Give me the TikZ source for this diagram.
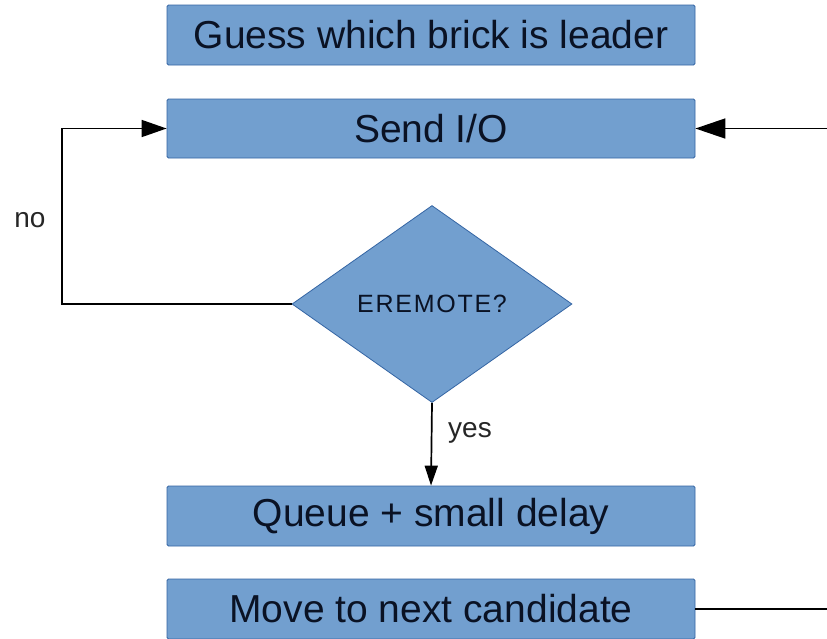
\documentclass[tikz,border=0pt]{standalone}
\usepackage{fontspec}
\setmainfont{Liberation Sans}
\usetikzlibrary{shapes.geometric,arrows.meta}

\definecolor{boxfill}{HTML}{729FCF}
\definecolor{boxline}{HTML}{3465A4}
\definecolor{boxtext}{HTML}{0A1224}

\tikzset{
  stepbox/.style={draw=boxline, line width=0.8pt, fill=boxfill, rounded corners=1.5pt,
    minimum width=528pt, inner sep=0pt, text=boxtext,
    font=\fontsize{39}{39}\selectfont},
  decision/.style={diamond, draw=boxline, line width=0.8pt, fill=boxfill, inner sep=0pt,
    minimum width=280pt, minimum height=197pt, text=boxtext,
    font=\fontsize{25}{25}\selectfont\addfontfeature{LetterSpace=7}},
  flow/.style={draw=black, line width=1.7pt},
  branch/.style={font=\fontsize{28}{28}\selectfont, text=black!85},
}

\begin{document}
\begin{tikzpicture}[x=1pt, y=-1pt]
  \useasboundingbox (0,0) rectangle (827,638);
  \clip (0,0) rectangle (827,638);
  \fill[white] (0,0) rectangle (827,638);

  % process steps
  \node[stepbox, minimum height=60pt] (guess) at (431,35) {Guess which brick is leader};
  \node[stepbox, minimum height=59pt] (send)  at (431,128.5) {Send I/O};
  \node[decision] (eremote) at (432,304) {EREMOTE?};
  \node[stepbox, minimum height=60pt] (queue) at (431,516) {Queue + small delay};
  \node[stepbox, minimum height=60pt] (move)  at (431,609) {Move to next candidate};

  % loose ends leaving the right edge
  \coordinate (retin)  at (828,128.5);
  \coordinate (retout) at (828,609);

  % "no" branch loops back to sending
  \draw[flow, -{Triangle[length=25pt,width=17pt]}]
    (eremote.west) -- (62,304) -- (62,128.5) -- (send.west);
  \node[branch] (no) at (30,220) {no};

  % "yes" branch goes down to the queue
  \draw[flow, -{Triangle[length=20pt,width=13pt]}] (eremote.south) -- (queue.north);
  \node[branch] (yes) at (470,433) {yes};

  % retry path returning from the next candidate
  \draw[flow, -{Triangle[length=30pt,width=20pt]}] (retin) -- (send.east);
  \draw[flow] (move.east) -- (retout);
\end{tikzpicture}
\end{document}
